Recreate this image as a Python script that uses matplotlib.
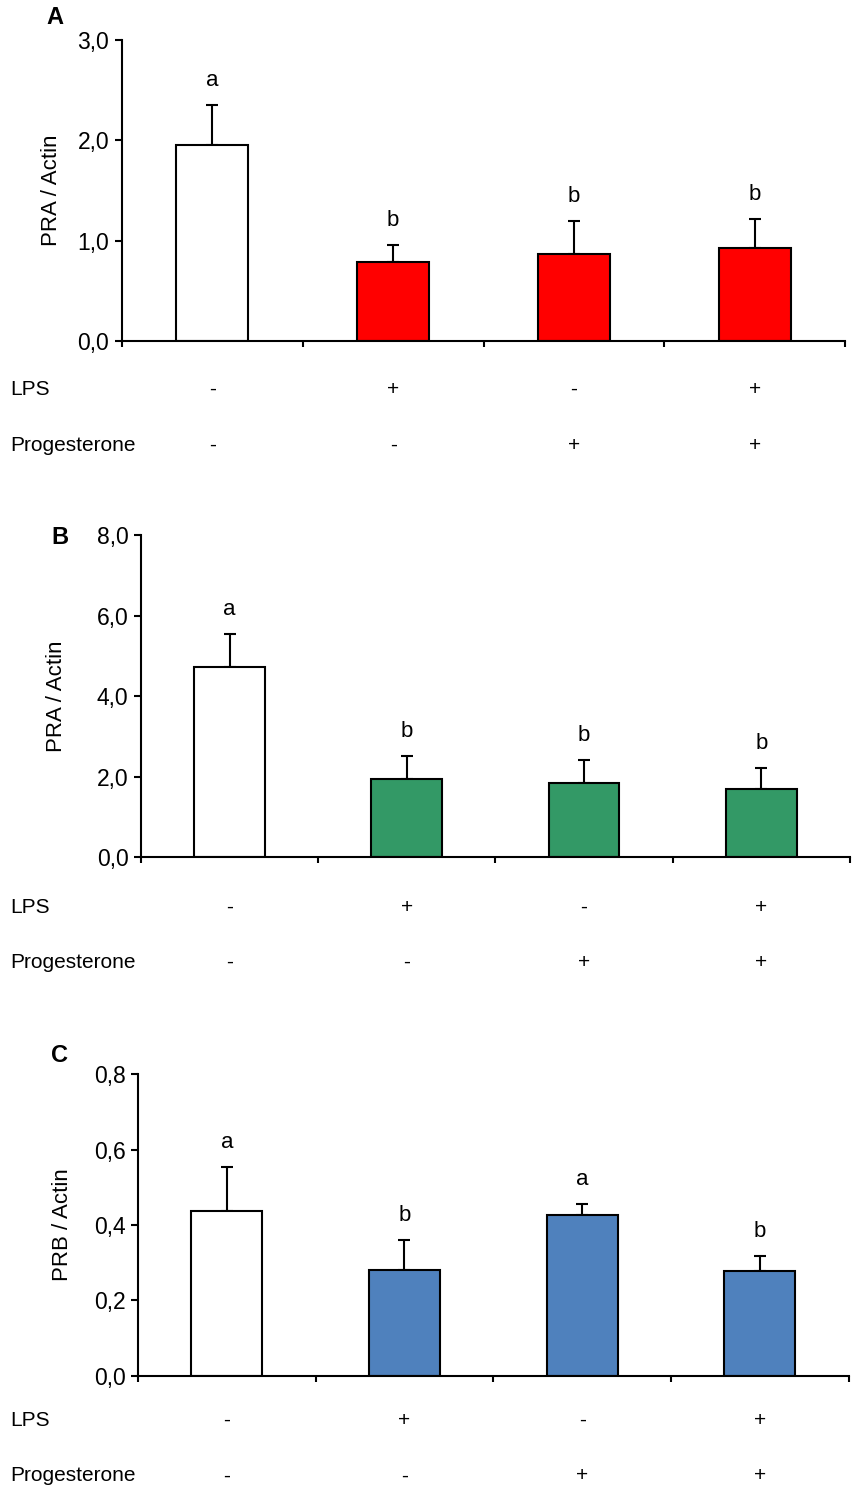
import matplotlib
matplotlib.use('Agg')
from matplotlib import pyplot as plt

plt.rcParams['font.family'] = ['Liberation Sans', 'DejaVu Sans']

# data
groups = [0, 1, 2, 3]
lps = ['-', '+', '-', '+']
prog = ['-', '-', '+', '+']

pra_a = [1.95, 0.79, 0.87, 0.93]
pra_a_err = [0.40, 0.17, 0.33, 0.29]
pra_a_letters = ['a', 'b', 'b', 'b']

pra_b = [4.72, 1.94, 1.84, 1.69]
pra_b_err = [0.82, 0.57, 0.57, 0.52]
pra_b_letters = ['a', 'b', 'b', 'b']

prb_c = [0.437, 0.281, 0.426, 0.278]
prb_c_err = [0.117, 0.079, 0.030, 0.040]
prb_c_letters = ['a', 'b', 'a', 'b']

Red = '#ff0000'
Green = '#339966'
Blue = '#4f81bd'

fig = plt.figure(figsize=(8.52, 14.89), dpi=100)

# name, axes rect, values, errors, letters, colour, ylabel, yticks, yticklabels,
# panel letter position, ylabel x (axes coords), table row offsets (points)
panels = [
    ('A', [0.143, 0.771, 0.849, 0.202], pra_a, pra_a_err, pra_a_letters, Red,
     'PRA / Actin', [0, 1, 2, 3], ['0,0', '1,0', '2,0', '3,0'], (0.064, 0.988), -0.083, (-35, -75)),
    ('B', [0.1655, 0.4244, 0.832, 0.2163], pra_b, pra_b_err, pra_b_letters, Green,
     'PRA / Actin', [0, 2, 4, 6, 8], ['0,0', '2,0', '4,0', '6,0', '8,0'], (0.0704, 0.639), -0.104, (-36, -76)),
    ('C', [0.162, 0.0759, 0.834, 0.2028], prb_c, prb_c_err, prb_c_letters, Blue,
     'PRB / Actin', [0, 0.2, 0.4, 0.6, 0.8], ['0,0', '0,2', '0,4', '0,6', '0,8'], (0.0704, 0.291), -0.091, (-32, -72)),
]

for name, rect, vals, errs, letters, color, ylab, yt, ytl, pos, labx, rows in panels:
    ax = fig.add_axes(rect)
    colors = ['white', color, color, color]
    ax.bar(groups, vals, width=0.4, color=colors, edgecolor='black', linewidth=1.5, zorder=2)
    ax.errorbar(groups, vals, yerr=[[0] * 4, errs], fmt='none', ecolor='black',
                elinewidth=1.5, capsize=4, capthick=1.5, zorder=1)
    for x, v, e, t in zip(groups, vals, errs, letters):
        ax.annotate(t, (x, v + e), xytext=(0, 10), textcoords='offset points',
                    ha='center', va='bottom', fontsize=16)
    ax.set_xlim(-0.5, 3.5)
    ax.set_ylim(yt[0], yt[-1])
    ax.set_yticks(yt)
    ax.set_yticklabels(ytl, fontsize=16.5)
    ax.set_xticks([-0.5, 0.5, 1.5, 2.5, 3.5])
    ax.set_xticklabels([])
    ax.tick_params(axis='y', direction='out', length=5, width=1.5, pad=4)
    ax.tick_params(axis='x', direction='out', length=4, width=1.5)
    for s in ['top', 'right']:
        ax.spines[s].set_visible(False)
    for s in ['left', 'bottom']:
        ax.spines[s].set_linewidth(1.5)
        ax.spines[s].set_zorder(3)
    ax.set_ylabel(ylab, fontsize=16)
    ax.yaxis.set_label_coords(labx, 0.5)

    # treatment table below the axis
    ax.annotate('LPS', (10 / 852, 0), xycoords=('figure fraction', 'axes fraction'),
                xytext=(0, rows[0]), textcoords='offset points', ha='left', va='center', fontsize=15)
    ax.annotate('Progesterone', (10 / 852, 0), xycoords=('figure fraction', 'axes fraction'),
                xytext=(0, rows[1]), textcoords='offset points', ha='left', va='center', fontsize=15)
    for x, a, b in zip(groups, lps, prog):
        ax.annotate(a, (x, 0), xycoords=('data', 'axes fraction'), xytext=(0, rows[0]),
                    textcoords='offset points', ha='center', va='center', fontsize=15)
        ax.annotate(b, (x, 0), xycoords=('data', 'axes fraction'), xytext=(0, rows[1]),
                    textcoords='offset points', ha='center', va='center', fontsize=15)

    fig.text(pos[0], pos[1], name, fontsize=17, fontweight='bold', ha='center', va='center')

fig.savefig('out.png', dpi=100)
